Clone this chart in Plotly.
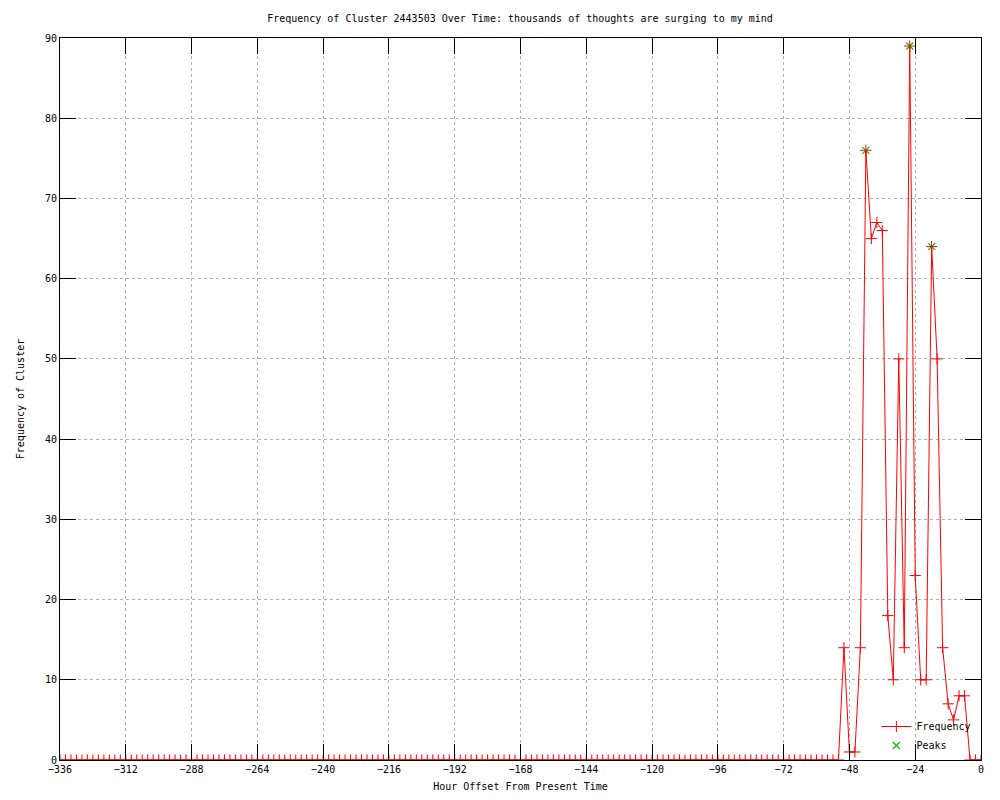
import plotly.graph_objects as go

# Hours from -336 to 0, every 2 hours
hours = list(range(-336, 1, 2))
nonzero = {
    -50: 14, -48: 1, -46: 1, -44: 14, -42: 76, -40: 65, -38: 67, -36: 66,
    -34: 18, -32: 10, -30: 50, -28: 14, -26: 89, -24: 23, -22: 10, -20: 10,
    -18: 64, -16: 50, -14: 14, -12: 7, -10: 5, -8: 8, -6: 8, -4: 0, -2: 0,
}
freq = [nonzero.get(h, 0) for h in hours]

peak_hours = [-42, -26, -18]
peak_values = [76, 89, 64]

x_ticks = list(range(-336, 1, 24))
y_ticks = list(range(0, 91, 10))

title_text = "Frequency of Cluster 2443503 Over Time: thousands of thoughts are surging to my mind"
FONT = "DejaVu Sans Mono"

fig = go.Figure()
fig.add_trace(go.Scatter(
    x=peak_hours, y=peak_values, mode="markers", name="Peaks",
    marker=dict(symbol="x-thin", size=7, line=dict(color="#00c000", width=1.2), color="#00c000"),
))
fig.add_trace(go.Scatter(
    x=hours, y=freq, mode="lines+markers", name="Frequency",
    line=dict(color="red", width=1),
    marker=dict(symbol="cross-thin", size=8, line=dict(color="red", width=1), color="red"),
))

axis_common = dict(
    showline=True, linecolor="black", linewidth=1, mirror="ticks",
    ticks="inside", ticklen=16, tickcolor="black", tickwidth=1,
    showgrid=True, gridcolor="#b0b0b0", griddash="dot", gridwidth=1,
    zeroline=False, tickfont=dict(family=FONT, size=10, color="black"),
)

fig.update_layout(
    width=1000, height=800,
    paper_bgcolor="white", plot_bgcolor="white",
    margin=dict(l=43, r=27, t=30, b=48),
    title=dict(text=title_text, x=0.512, xanchor="center", y=0.9875, yanchor="middle",
               font=dict(family=FONT, size=10, color="black")),
    xaxis=dict(range=[-336, 0], tickvals=x_ticks,
               title=dict(text="Hour Offset From Present Time", font=dict(family=FONT, size=10, color="black"), standoff=8),
               **axis_common),
    yaxis=dict(range=[0, 90], tickvals=y_ticks,
               title=dict(text="Frequency of Cluster", font=dict(family=FONT, size=10, color="black"), standoff=18),
               **axis_common),
    legend=dict(x=0.995, xanchor="right", y=0.0, yanchor="bottom", bgcolor="rgba(0,0,0,0)",
                font=dict(family=FONT, size=10, color="black"), traceorder="reversed",
                tracegroupgap=0),
    showlegend=True,
)

fig.write_html("out.html")
